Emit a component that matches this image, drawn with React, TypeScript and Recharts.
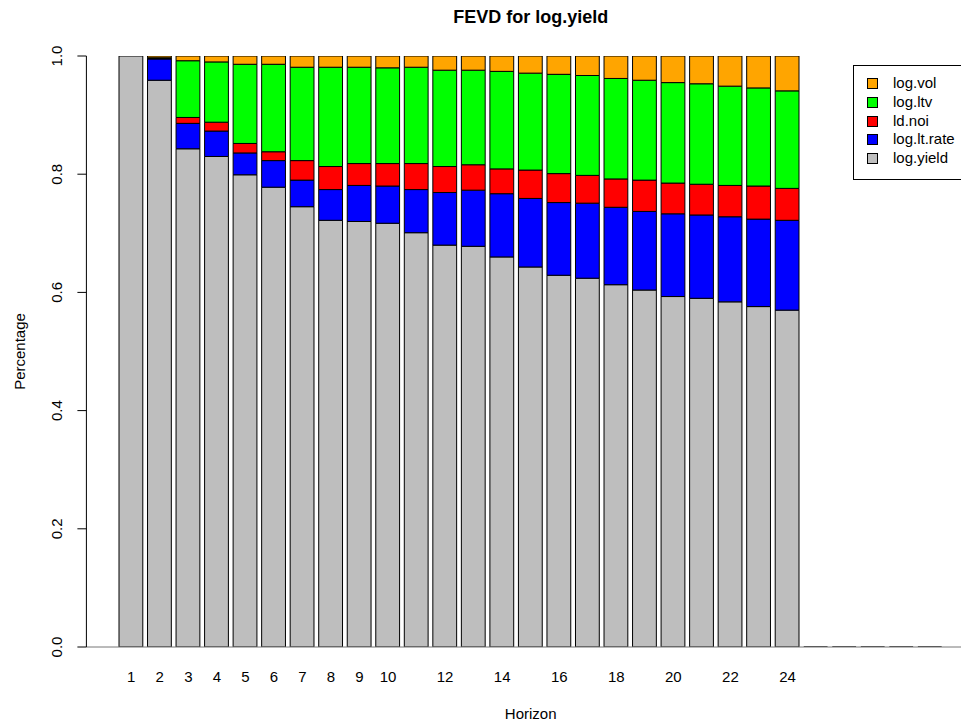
import React from 'react';
import { BarChart, Bar, XAxis, YAxis, ReferenceLine, Legend, Rectangle } from 'recharts';

const horizons = [1, 2, 3, 4, 5, 6, 7, 8, 9, 10, 11, 12, 13, 14, 15, 16, 17, 18, 19, 20, 21, 22, 23, 24];
const emptySlots = 5;
const tickLabels = ['1', '2', '3', '4', '5', '6', '7', '8', '9', '10', '', '12', '', '14', '', '16', '', '18', '', '20', '', '22', '', '24', '', '', '', '', ''];

const logYield = [1.0, 0.959, 0.843, 0.830, 0.799, 0.778, 0.745, 0.722, 0.720, 0.717, 0.701, 0.680, 0.678, 0.660, 0.643, 0.629, 0.624, 0.613, 0.604, 0.593, 0.590, 0.584, 0.576, 0.570];
const logLtRate = [0.0, 0.036, 0.043, 0.043, 0.037, 0.045, 0.045, 0.052, 0.061, 0.063, 0.073, 0.089, 0.095, 0.107, 0.116, 0.123, 0.127, 0.131, 0.133, 0.140, 0.141, 0.144, 0.148, 0.152];
const ldNoi = [0.0, 0.001, 0.010, 0.015, 0.016, 0.015, 0.033, 0.039, 0.037, 0.038, 0.044, 0.044, 0.043, 0.042, 0.048, 0.049, 0.047, 0.048, 0.053, 0.052, 0.052, 0.053, 0.056, 0.054];
const logLtv = [0.0, 0.001, 0.096, 0.102, 0.134, 0.148, 0.158, 0.168, 0.163, 0.162, 0.163, 0.163, 0.160, 0.165, 0.164, 0.168, 0.169, 0.170, 0.169, 0.170, 0.170, 0.168, 0.166, 0.165];
const logVol = [0.0, 0.003, 0.008, 0.010, 0.014, 0.014, 0.019, 0.019, 0.019, 0.020, 0.019, 0.024, 0.024, 0.026, 0.029, 0.031, 0.033, 0.038, 0.041, 0.045, 0.047, 0.051, 0.054, 0.059];

const yTicks = [0, 0.2, 0.4, 0.6, 0.8, 1.0];

const seriesKeys = ['yield', 'rate', 'noi', 'ltv', 'vol'];
const seriesNames = ['log.yield', 'log.lt.rate', 'ld.noi', 'log.ltv', 'log.vol'];
const seriesColors = ['#BEBEBE', '#0000FF', '#FF0000', '#00FF00', '#FFA500'];

const data = [
  ...horizons.map((h, i) => ({
    slot: i,
    yield: logYield[i],
    rate: logLtRate[i],
    noi: ldNoi[i],
    ltv: logLtv[i],
    vol: logVol[i],
  })),
  ...Array.from({ length: emptySlots }, (_, k) => ({
    slot: horizons.length + k,
    yield: 0,
    rate: 0,
    noi: 0,
    ltv: 0,
    vol: 0,
  })),
];

const FONT = '"Liberation Sans", Arial, Helvetica, sans-serif';

const XTick = (props: any) => {
  const { x, y, payload } = props;
  const label = tickLabels[payload.value] ?? '';
  return (
    <text x={x} y={y + 35} textAnchor="middle" fontSize={15} fontFamily={FONT} fill="#000">
      {label}
    </text>
  );
};

const YTick = (props: any) => {
  const { x, y, payload } = props;
  const tx = x - 15.4;
  return (
    <text
      x={tx}
      y={y}
      transform={`rotate(-90, ${tx}, ${y})`}
      textAnchor="middle"
      fontSize={15}
      fontFamily={FONT}
      fill="#000"
    >
      {Number(payload.value).toFixed(1)}
    </text>
  );
};

const baseShape = (props: any) => {
  if (!props.height) {
    return (
      <line
        x1={props.x}
        x2={props.x + props.width}
        y1={props.y}
        y2={props.y}
        stroke="#000"
        strokeWidth={1.5}
      />
    );
  }
  return <Rectangle {...props} />;
};

const LegendBox = () => {
  const rows = seriesNames.map((n, i) => ({ n, c: seriesColors[i] })).reverse();
  return (
    <div
      style={{
        width: 122,
        height: 115,
        border: '1px solid #000',
        boxSizing: 'border-box',
        background: '#fff',
        paddingTop: 8,
        fontFamily: FONT,
        fontSize: 15,
        color: '#000',
      }}
    >
      {rows.map((r) => (
        <div key={r.n} style={{ position: 'relative', height: 18.75, lineHeight: '18.75px' }}>
          <span
            style={{
              position: 'absolute',
              left: 13,
              top: 4,
              width: 11,
              height: 11,
              boxSizing: 'border-box',
              border: '1px solid #000',
              background: r.c,
            }}
          />
          <span style={{ position: 'absolute', left: 39, top: 0, whiteSpace: 'nowrap' }}>{r.n}</span>
        </div>
      ))}
    </div>
  );
};

export default function App() {
  return (
    <div
      style={{
        position: 'absolute',
        left: 0,
        top: 0,
        width: 961,
        height: 727,
        overflow: 'hidden',
        background: '#fff',
        fontFamily: FONT,
      }}
    >
      <BarChart
        width={1000}
        height={727}
        data={data}
        margin={{ top: 56, right: 25, bottom: 50, left: 26.4 }}
        barSize={23.8}
        barGap={0}
      >
        <XAxis
          dataKey="slot"
          type="category"
          padding={{ left: 30.6, right: 30.6 }}
          axisLine={false}
          tickLine={false}
          tickSize={0}
          tickMargin={0}
          interval={0}
          tick={<XTick />}
          height={30}
        />
        <YAxis
          type="number"
          domain={[0, 1]}
          ticks={yTicks}
          width={60}
          tickSize={9}
          tickMargin={0}
          axisLine={{ stroke: '#000', strokeWidth: 1 }}
          tickLine={{ stroke: '#000', strokeWidth: 1 }}
          tick={<YTick />}
          allowDataOverflow
        />
        <ReferenceLine y={0} stroke="#777" strokeWidth={1} />
        {seriesKeys.map((k, i) => (
          <Bar
            key={k}
            dataKey={k}
            name={seriesNames[i]}
            stackId="fevd"
            fill={seriesColors[i]}
            stroke="#000"
            strokeWidth={1}
            isAnimationActive={false}
            shape={i === 0 ? baseShape : undefined}
          />
        ))}
        <Legend
          layout="horizontal"
          verticalAlign="middle"
          align="center"
          content={<LegendBox />}
          wrapperStyle={{ left: 853, top: 65, width: 122, height: 115 }}
        />
        <text x={530.7} y={23} textAnchor="middle" fontSize={18} fontWeight="bold" fontFamily={FONT} fill="#000">
          FEVD for log.yield
        </text>
        <text x={530.7} y={719} textAnchor="middle" fontSize={15} fontFamily={FONT} fill="#000">
          Horizon
        </text>
        <text
          x={25}
          y={351.5}
          transform="rotate(-90, 25, 351.5)"
          textAnchor="middle"
          fontSize={15}
          fontFamily={FONT}
          fill="#000"
        >
          Percentage
        </text>
      </BarChart>
    </div>
  );
}
